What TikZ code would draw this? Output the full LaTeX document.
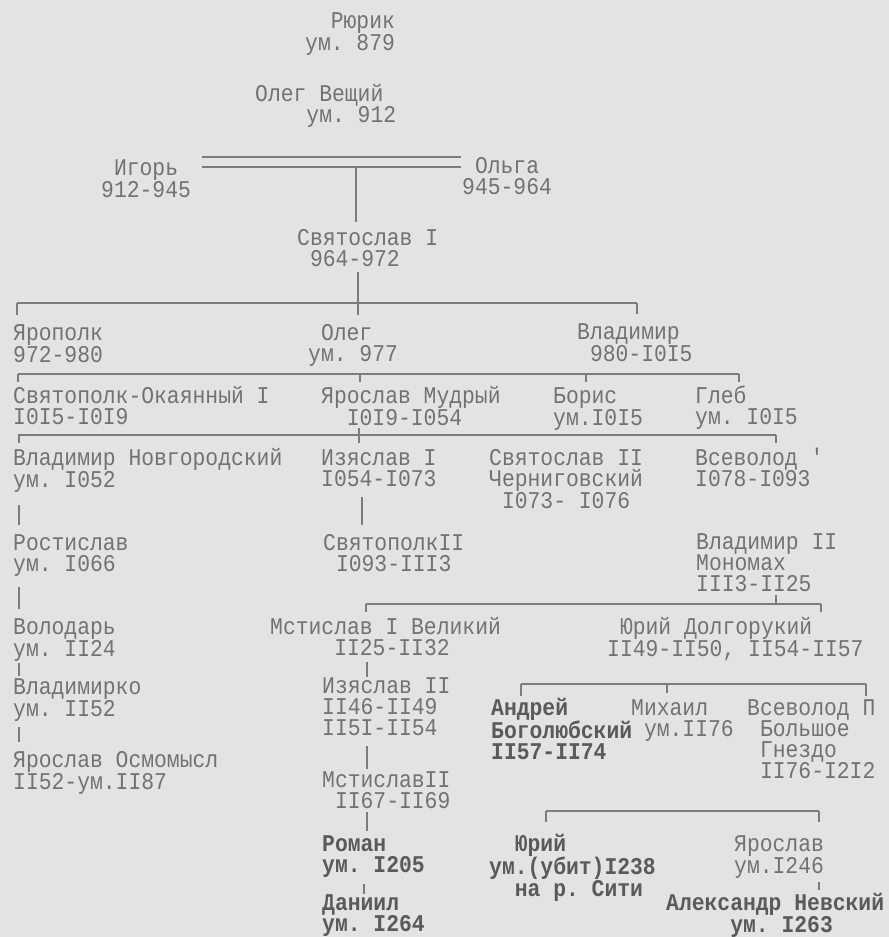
\documentclass[tikz,border=0pt]{standalone}
\usepackage{fontspec}
\usepackage{xcolor}
\newfontfamily\typewr[FakeStretch=0.89]{Liberation Mono}
\definecolor{paper}{HTML}{E3E3E3}
\definecolor{typeink}{HTML}{727272}
\definecolor{typedark}{HTML}{5A5A5A}
\definecolor{rulegrey}{HTML}{7C7C7C}
\newcommand{\cell}{\hphantom{0}}
\newcommand{\fst}{\rule{0pt}{20bp}}

\begin{document}
\begin{tikzpicture}[
  x=1bp,
  y=-1bp,
  person/.style={anchor=north west, inner sep=0pt, align=left, text depth=0pt,
    text=typeink, font=\typewr\fontsize{24bp}{21bp}\selectfont\frenchspacing},
  heavy/.style={person, text=typedark,
    font=\typewr\bfseries\fontsize{24bp}{21bp}\selectfont\frenchspacing},
  bar/.style={rulegrey, line width=2.6bp},
  stem/.style={rulegrey, line width=1.8bp},
  wed/.style={rulegrey, line width=2.4bp}
]
  % ---- sheet ----------------------------------------------------------
  \useasboundingbox (0,0) rectangle (889,937);
  \fill[paper] (0,0) rectangle (889,937);

  % ---- the first generations --------------------------------------------
  \node[person] (rurik) at (305,8) {\fst\cell\cell Рюрик\\ум. 879};
  \node[person] (olegv) at (255,81) {\fst Олег Вещий\\\cell\cell\cell\cell ум. 912};
  \node[person] (igor) at (101,155) {\fst\cell Игорь\\912-945};
  \node[person] (olga) at (462,153) {\fst\cell Ольга\\945-964};
  \node[person] (svyat1) at (297,225) {\fst Святослав I\\\cell 964-972};

  \draw[wed] ([shift={(11,2)}]igor.north east) -- ([shift={(-1,4)}]olga.north west);
  \draw[wed] ([shift={(11,12)}]igor.north east) -- ([shift={(-1,14)}]olga.north west);
  \coordinate (wed) at (356,167);
  \draw[stem, shorten >=3bp] (wed) -- (svyat1.north -| wed);

  % ---- sons of Svyatoslav ----------------------------------------------
  \node[person] (yaropolk) at (13,320) {\fst Ярополк\\972-980};
  \node[person] (oleg) at (308,320) {\fst\cell Олег\\ум. 977};
  \node[person] (vlad1) at (577,319) {\fst Владимир\\\cell 980-I0I5};

  \coordinate (b1l) at (17,303);
  \coordinate (b1r) at (637,303);
  \draw[stem, shorten <=6bp] (svyat1.south -| 358,0) -- (b1l -| 358,0);
  \draw[bar] (b1l) -- (b1r);
  \foreach \tx/\kid in {17/yaropolk, 358/oleg, 637/vlad1}
    \draw[stem, shorten >=5bp] (b1l -| \tx,0) -- (\kid.north -| \tx,0);

  % ---- sons of Vladimir ------------------------------------------------
  \node[person] (svyatopolk) at (13,383) {\fst Святополк-Окаянный I\\I0I5-I0I9};
  \node[person] (yaroslav) at (321,383) {\fst Ярослав Мудрый\\\cell\cell I0I9-I054};
  \node[person] (boris) at (553,383) {\fst Борис\\ум.I0I5};
  \node[person] (gleb) at (695,383) {\fst Глеб\\ум. I0I5};

  \coordinate (b2l) at (18,374);
  \coordinate (b2r) at (739,374);
  \draw[bar] (b2l) -- (b2r);
  \foreach \tx/\kid in {18/svyatopolk, 360/yaroslav, 586/boris, 739/gleb}
    \draw[stem, shorten >=1bp] (b2l -| \tx,0) -- (\kid.north -| \tx,0);

  % ---- sons of Yaroslav ------------------------------------------------
  \node[person] (vnov) at (13,445) {\fst Владимир Новгородский\\ум. I052};
  \node[person] (izyas1) at (321,445) {\fst Изяслав I\\I054-I073};
  \node[person] (svyat2) at (489,445) {\fst Святослав II\\Черниговский\\\cell I073- I076};
  \node[person] (vsev1) at (695,445) {\fst Всеволод '\\I078-I093};

  \coordinate (b3l) at (18,435);
  \coordinate (b3r) at (776,435);
  \draw[stem, shorten <=3bp] (yaroslav.south -| 359,0) -- (b3l -| 359,0);
  \draw[bar] (b3l) -- (b3r);
  \foreach \tx/\kid in {19/vnov, 359/izyas1, 776/vsev1}
    \draw[stem, shorten >=2bp] (b3l -| \tx,0) -- (\kid.north -| \tx,0);

  % ---- Galician line ---------------------------------------------------
  \node[person] (rostislav) at (13,530) {\fst Ростислав\\ум. I066};
  \node[person] (volodar) at (13,614) {\fst Володарь\\ум. II24};
  \node[person] (vladimirko) at (13,674) {\fst Владимирко\\ум. II52};
  \node[person] (osmomysl) at (13,747) {\fst Ярослав Осмомысл\\II52-ум.II87};

  \draw[stem, shorten <=18bp, shorten >=5bp] (vnov.south -| 19,0) -- (rostislav.north -| 19,0);
  \draw[stem, shorten <=16bp, shorten >=5bp] (rostislav.south -| 19,0) -- (volodar.north -| 19,0);
  \draw[stem, shorten <=7bp, shorten >=-2bp] (volodar.south -| 19,0) -- (vladimirko.north -| 19,0);
  \draw[stem, shorten <=11bp, shorten >=5bp] (vladimirko.south -| 19,0) -- (osmomysl.north -| 19,0);

  % ---- Kiev and Volhynia -----------------------------------------------
  \node[person] (svyatopolk2) at (323,530) {\fst СвятополкII\\\cell I093-III3};
  \node[person] (monomakh) at (696,529) {\fst Владимир II\\Мономах\\III3-II25};
  \node[person] (mstislav1) at (270,614) {\fst Мстислав I Великий\\\cell\cell\cell\cell\cell II25-II32};
  \node[person] (dolgoruky) at (607,614) {\fst\cell Юрий Долгорукий\\II49-II50, II54-II57};
  \node[person] (izyas2) at (322,673) {\fst Изяслав II\\II46-II49\\II5I-II54};
  \node[person] (mstislav2) at (322,767) {\fst МстиславII\\\cell II67-II69};
  \node[heavy] (roman) at (322,831) {\fst Роман\\ум. I205};
  \node[heavy] (daniil) at (322,890) {\fst Даниил\\ум. I264};

  \draw[stem, shorten <=11bp, shorten >=5bp] (izyas1.south -| 362,0) -- (svyatopolk2.north -| 362,0);
  \coordinate (b4l) at (366,604);
  \coordinate (b4r) at (821,604);
  \draw[stem, shorten <=4bp] (monomakh.south -| 776,0) -- (b4l -| 776,0);
  \draw[bar] (b4l) -- (b4r);
  \foreach \tx/\kid in {366/mstislav1, 821/dolgoruky}
    \draw[stem, shorten >=2bp] (b4l -| \tx,0) -- (\kid.north -| \tx,0);

  \draw[stem, shorten <=7bp, shorten >=-4bp] (mstislav1.south -| 367,0) -- (izyas2.north -| 367,0);
  \draw[stem, shorten <=11bp, shorten >=-2bp] (izyas2.south -| 367,0) -- (mstislav2.north -| 367,0);
  \draw[stem, shorten <=4bp] (mstislav2.south -| 367,0) -- (roman.north -| 367,0);
  \draw[stem, shorten <=12bp, shorten >=-4bp] (roman.south -| 364,0) -- (daniil.north -| 364,0);

  % ---- sons of Yuri Dolgoruky ------------------------------------------
  \node[heavy] (andrey) at (491,695) {\fst Андрей\\Боголюбский\\II57-II74};
  \node[person] (mikhail) at (631,695) {\fst Михаил\\\cell ум.II76};
  \node[person] (vsev3) at (747,695) {\fst Всеволод П\\\cell Большое\\\cell Гнездо\\\cell II76-I2I2};

  \coordinate (b5l) at (521,684);
  \coordinate (b5r) at (866,684);
  \draw[bar] (b5l) -- (b5r);
  \draw[stem, shorten >=-1bp] (b5l) -- (andrey.north -| b5l);
  \draw[stem, shorten >=2bp] (b5l -| 667,0) -- (mikhail.north -| 667,0);
  \draw[stem, shorten >=-1bp] (b5r) -- (vsev3.north -| b5r);

  % ---- sons of Vsevolod ------------------------------------------------
  \node[heavy] (yuri) at (489,831) {\fst\cell\cell Юрий\\ум.(убит)I238\\\cell\cell на р. Сити};
  \node[person] (yaroslav2) at (734,831) {\fst Ярослав\\ум.I246};
  \node[heavy] (nevsky) at (666,890) {\fst Александр Невский\\\cell\cell\cell\cell\cell ум. I263};

  \coordinate (b6l) at (546,811);
  \coordinate (b6r) at (819,811);
  \draw[bar] (b6l) -- (b6r);
  \draw[stem, shorten >=9bp] (b6l) -- (yuri.north -| b6l);
  \draw[stem, shorten >=9bp] (b6r) -- (yaroslav2.north -| b6r);
  \draw[stem, shorten <=9bp] (yaroslav2.south -| 819,0) -- (nevsky.north -| 819,0);

\end{tikzpicture}
\end{document}
